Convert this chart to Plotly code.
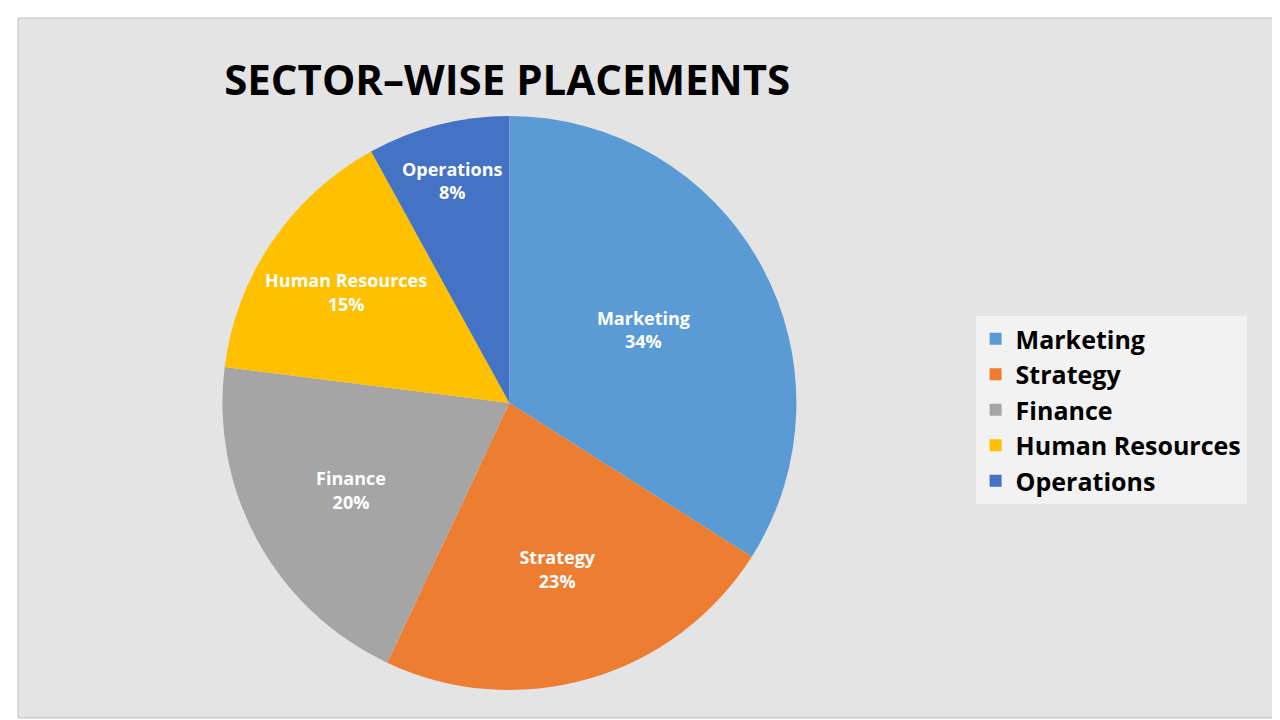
import plotly.graph_objects as go

sectors = ["Marketing", "Strategy", "Finance", "Human Resources", "Operations"]
shares = [34, 23, 20, 15, 8]
colors = ["#5B9BD5", "#ED7D31", "#A5A5A5", "#FFC000", "#4472C4"]

fig = go.Figure(go.Pie(
    labels=sectors, values=shares, sort=False, direction="clockwise", rotation=0,
    marker=dict(colors=colors, line=dict(color="#ffffff", width=0)),
    texttemplate="<b>%{label}<br>%{percent:.0%}</b>", textposition="inside",
    insidetextorientation="horizontal",
    textfont=dict(family="Open Sans", size=18, color="white"),
    domain=dict(x=[0.08, 0.70], y=[0.04, 0.86]),
))

fig.update_layout(
    width=1280, height=720,
    paper_bgcolor="white",
    margin=dict(l=10, r=10, t=10, b=10),
    title=dict(text="<b>SECTOR–WISE PLACEMENTS</b>", x=0.39, y=0.92, xanchor="center",
               font=dict(family="Open Sans", size=42, color="black")),
    legend=dict(x=0.76, y=0.44, yanchor="middle", bgcolor="#f2f2f2",
                font=dict(family="Open Sans", size=25, color="black"),
                itemsizing="constant"),
    shapes=[dict(type="rect", xref="paper", yref="paper", x0=0, y0=0, x1=1, y1=1,
                 fillcolor="#e4e4e4", layer="below",
                 line=dict(color="#bfbfbf", width=1))],
)
fig.update_traces(legendgrouptitle=None)
fig.update_layout(legend_font=dict(family="Open Sans", size=25), legend_traceorder="normal")
fig.for_each_trace(lambda t: t.update(labels=[f"<b>{s}</b>" for s in sectors],
                                      texttemplate="<b>%{label}<br>%{percent:.0%}</b>"))

fig.write_html("out.html")
